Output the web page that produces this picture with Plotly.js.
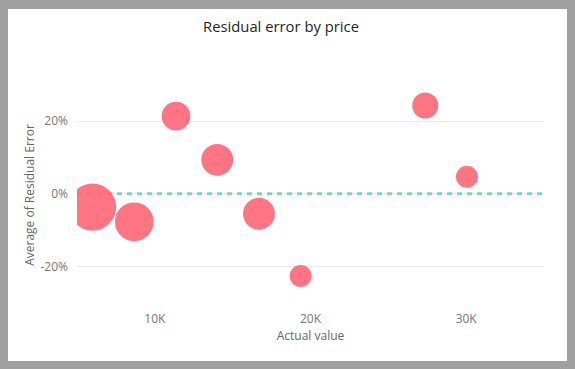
<!DOCTYPE html>
<html>
<head>
<meta charset="utf-8">
<script src="https://cdn.plot.ly/plotly-3.0.1.min.js"></script>
<style>
  html, body { margin: 0; padding: 0; background: #a0a0a0; width: 575px; height: 369px; overflow: hidden; }
  #chart { position: absolute; left: 8px; top: 9px; width: 559px; height: 352px; background: #fff; }
</style>
</head>
<body>
<div id="chart"></div>
<script>
// Actual value (price) per group
const actualValue = [6000, 8680, 11360, 14010, 16690, 19370, 27370, 30050];
// Average of residual error
const residualError = [-0.0366, -0.0771, 0.214, 0.0937, -0.0551, -0.2267, 0.2435, 0.0468];
// Bubble size measure (count)
const counts = [46, 31, 17, 21, 21, 10, 14, 10];
const xRange = [5000, 35000];
const yRange = [-0.3066, 0.30];
const zeroRefX = xRange;
const zeroRefY = [0, 0];
const yTickVals = [-0.2, 0, 0.2];
const yTickText = ['-20%', '0%', '20%'];
const xTickVals = [10000, 20000, 30000];
const xTickText = ['10K', '20K', '30K'];

const refLine = {
  type: 'scatter',
  mode: 'lines',
  x: zeroRefX,
  y: zeroRefY,
  line: { color: 'rgb(118,214,200)', width: 3, dash: '5px,5px' },
  hoverinfo: 'skip'
};

const bubbles = {
  type: 'scatter',
  mode: 'markers',
  x: actualValue,
  y: residualError,
  cliponaxis: true,
  marker: {
    size: counts,
    sizemode: 'area',
    sizeref: 0.0413,
    color: 'rgb(255,105,120)',
    opacity: 0.92,
    line: { width: 0 }
  },
  hoverinfo: 'x+y'
};

const layout = {
  width: 559,
  height: 352,
  paper_bgcolor: '#ffffff',
  plot_bgcolor: '#ffffff',
  margin: { l: 69, r: 23, t: 76, b: 56 },
  showlegend: false,
  font: { family: 'Open Sans, Noto Sans, sans-serif', color: '#777' },
  title: {
    text: 'Residual error by price',
    font: { size: 14.8, color: '#252423' },
    xref: 'container', x: 0.4884, xanchor: 'center',
    yref: 'container', y: 0.949, yanchor: 'middle'
  },
  xaxis: {
    range: xRange,
    tickvals: xTickVals,
    ticktext: xTickText,
    showgrid: false,
    zeroline: false,
    showline: false,
    ticks: '',
    tickfont: { size: 12, color: '#777' },
    ticklabelstandoff: 5,
    title: { text: 'Actual value', font: { size: 12, color: '#666' }, standoff: 5 }
  },
  yaxis: {
    range: yRange,
    tickvals: yTickVals,
    ticktext: yTickText,
    showgrid: true,
    gridcolor: '#e9e9e9',
    gridwidth: 1,
    zeroline: false,
    showline: false,
    ticks: '',
    tickfont: { size: 12, color: '#777' },
    ticklabelstandoff: 8,
    title: { text: 'Average of Residual Error', font: { size: 12, color: '#666' }, standoff: 3 }
  }
};

Plotly.newPlot('chart', [refLine, bubbles], layout, { displayModeBar: false, staticPlot: true });
</script>
</body>
</html>
